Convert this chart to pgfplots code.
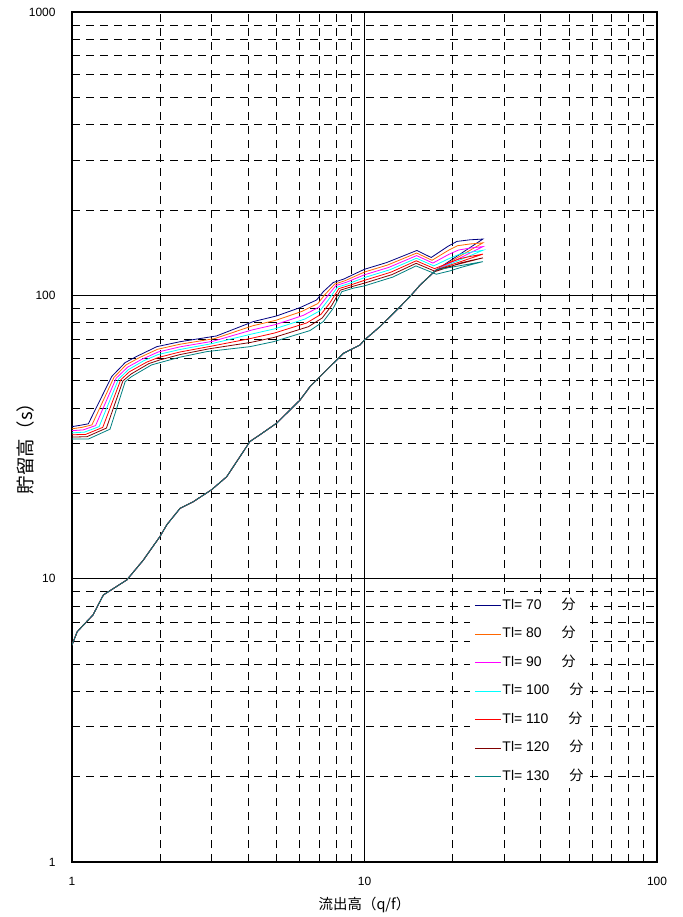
\documentclass[border=0pt]{standalone}
\usepackage{fontspec}
\setmainfont{Liberation Sans}
\newfontfamily\jp{Noto Sans CJK JP}
\usepackage{pgfplots}
\pgfplotsset{compat=1.18}
\definecolor{cA}{RGB}{0,0,128}
\definecolor{cB}{RGB}{255,102,0}
\definecolor{cC}{RGB}{255,0,255}
\definecolor{cD}{RGB}{0,255,255}
\definecolor{cE}{RGB}{255,0,0}
\definecolor{cF}{RGB}{128,0,0}
\definecolor{cG}{RGB}{0,128,128}
\begin{document}
\begin{tikzpicture}
\begin{loglogaxis}[
  scale only axis, width=585bp, height=850bp,
  xmin=1, xmax=100, ymin=1, ymax=1000,
  xtick={1,10,100}, xticklabels={1,10,100},
  ytick={1,10,100,1000}, yticklabels={1,10,100,1000},
  minor xtick={2,3,4,5,6,7,8,9,20,30,40,50,60,70,80,90},
  minor ytick={2,3,4,5,6,7,8,9,20,30,40,50,60,70,80,90,200,300,400,500,600,700,800,900},
  major tick length=0pt, minor tick length=0pt,
  grid=both,
  major grid style={black, line width=0.8bp},
  minor grid style={black, line width=0.8bp, dash pattern=on 8bp off 6bp},
  axis line style={black, line width=1.5bp},
  tick label style={font=\fontsize{12}{14}\selectfont},
  xticklabel style={yshift=-12bp},
  yticklabel style={xshift=-13bp},
  xlabel={\jp 流出高（q/f）}, ylabel={\jp 貯留高（s）},
  xlabel style={font=\fontsize{14.5}{16}\selectfont, at={(axis description cs:0.5,-0.0506)}, anchor=center},
  ylabel style={font=\fontsize{18.5}{20}\selectfont, at={(axis description cs:-0.0803,0.4918)}, anchor=center},
  legend cell align=left,
  legend image code/.code={\draw[#1, line width=1.3bp] (0bp,0bp) -- (26bp,0bp);},
  legend style={at={(axis description cs:0.6803,0.3153)}, anchor=north west,
    draw=none, fill=white, inner sep=4bp, row sep=13.5bp,
    font=\fontsize{14}{16}\selectfont,
    nodes={inner sep=1bp, text height=10bp, text depth=3bp}},
  every axis plot/.append style={line width=0.8bp, mark=none},
]
\addplot[color=cA] coordinates {(1,5.83) (1.042,6.5) (1.18,7.45) (1.28,8.76) (1.54,9.9) (1.75,11.6) (2,14.1) (2.11,15.5) (2.34,17.7) (2.6,18.7) (3,20.6) (3.38,22.9) (4.06,30.5) (4.39,32.2) (5.01,35.4) (6.02,42.7) (6.51,47.6) (7.62,56) (8.47,62.4) (9.65,66.8) (10,69.6) (11.3,77.6) (12.9,88.8) (14.3,99) (15.5,108.8) (17.6,123)
 (25.4,158) (22.9,157) (20.7,155) (19.3,149) (16.9,136) (15.1,144) (11.9,130.5) (10,123.6) (8.47,114) (7.82,111) (7.23,103) (6.86,96.3) (6.02,90.5) (5.01,84.6) (4.17,80.8) (3.12,71.9) (2.34,68.6) (1.95,65.9) (1.66,60.8) (1.52,57.9) (1.367,51.7) (1.137,35.2) (1.07,34.8) (1,34.4)};
\addlegendentry{Tl= 70\hspace{20bp}{\jp 分}}
\addplot[color=cB] coordinates {(1,5.83) (1.042,6.5) (1.18,7.45) (1.28,8.76) (1.54,9.9) (1.75,11.6) (2,14.1) (2.11,15.5) (2.34,17.7) (2.6,18.7) (3,20.6) (3.38,22.9) (4.06,30.5) (4.39,32.2) (5.01,35.4) (6.02,42.7) (6.51,47.6) (7.62,56) (8.47,62.4) (9.65,66.8) (10,69.6) (11.3,77.6) (12.9,88.8) (14.3,99) (15.5,108.8) (17.6,123)
 (25.4,153.2) (22.97,151.8) (20.83,149.7) (19.35,144.1) (17.01,132.95) (15.08,141.0) (12.0,127.96) (10,120.85) (8.58,112.6) (7.91,109.6) (7.33,100.7) (6.92,93.5) (6.10,87.7) (4.99,81.7) (4.15,78.1) (3.08,70.4) (2.34,67.2) (1.96,64.5) (1.69,60.1) (1.53,56.8) (1.391,51.3) (1.170,34.9) (1.081,34.2) (1,33.8)};
\addlegendentry{Tl= 80\hspace{20bp}{\jp 分}}
\addplot[color=cC] coordinates {(1,5.83) (1.042,6.5) (1.18,7.45) (1.28,8.76) (1.54,9.9) (1.75,11.6) (2,14.1) (2.11,15.5) (2.34,17.7) (2.6,18.7) (3,20.6) (3.38,22.9) (4.06,30.5) (4.39,32.2) (5.01,35.4) (6.02,42.7) (6.51,47.6) (7.62,56) (8.47,62.4) (9.65,66.8) (10,69.6) (11.3,77.6) (12.9,88.8) (14.3,99) (15.5,108.8) (17.6,123)
 (25.4,148.6) (23.03,146.9) (20.96,144.5) (19.4,139.4) (17.13,129.97) (15.07,138.1) (12.1,125.47) (10,118.17) (8.69,111.3) (7.99,108.3) (7.42,98.5) (6.98,90.8) (6.18,85.0) (4.97,78.9) (4.13,75.5) (3.04,68.9) (2.34,65.8) (1.97,63.1) (1.73,59.4) (1.55,55.8) (1.416,51.0) (1.204,34.7) (1.092,33.5) (1,33.3)};
\addlegendentry{Tl= 90\hspace{20bp}{\jp 分}}
\addplot[color=cD] coordinates {(1,5.83) (1.042,6.5) (1.18,7.45) (1.28,8.76) (1.54,9.9) (1.75,11.6) (2,14.1) (2.11,15.5) (2.34,17.7) (2.6,18.7) (3,20.6) (3.38,22.9) (4.06,30.5) (4.39,32.2) (5.01,35.4) (6.02,42.7) (6.51,47.6) (7.62,56) (8.47,62.4) (9.65,66.8) (10,69.6) (11.3,77.6) (12.9,88.8) (14.3,99) (15.5,108.8) (17.6,123)
 (25.4,144.2) (23.10,142.0) (21.1,139.6) (19.45,134.8) (17.25,127.05) (15.05,135.2) (12.2,123.04) (10,115.54) (8.81,109.9) (8.08,106.9) (7.52,96.3) (7.04,88.2) (6.26,82.5) (4.94,76.2) (4.11,73.0) (3.0,67.5) (2.34,64.4) (1.97,61.8) (1.76,58.8) (1.56,54.7) (1.442,50.6) (1.238,34.4) (1.103,32.9) (1,32.7)};
\addlegendentry{Tl= 100\hspace{20bp}{\jp 分}}
\addplot[color=cE] coordinates {(1,5.83) (1.042,6.5) (1.18,7.45) (1.28,8.76) (1.54,9.9) (1.75,11.6) (2,14.1) (2.11,15.5) (2.34,17.7) (2.6,18.7) (3,20.6) (3.38,22.9) (4.06,30.5) (4.39,32.2) (5.01,35.4) (6.02,42.7) (6.51,47.6) (7.62,56) (8.47,62.4) (9.65,66.8) (10,69.6) (11.3,77.6) (12.9,88.8) (14.3,99) (15.5,108.8) (17.6,123)
 (25.4,139.8) (23.17,137.4) (21.23,134.8) (19.5,130.4) (17.36,124.2) (15.03,132.4) (12.3,120.65) (10,112.97) (8.92,108.6) (8.17,105.6) (7.62,94.1) (7.10,85.7) (6.34,79.9) (4.92,73.6) (4.10,70.5) (2.96,66.0) (2.34,63.1) (1.98,60.4) (1.80,58.1) (1.57,53.7) (1.467,50.3) (1.274,34.2) (1.114,32.3) (1,32.2)};
\addlegendentry{Tl= 110\hspace{20bp}{\jp 分}}
\addplot[color=cF] coordinates {(1,5.83) (1.042,6.5) (1.18,7.45) (1.28,8.76) (1.54,9.9) (1.75,11.6) (2,14.1) (2.11,15.5) (2.34,17.7) (2.6,18.7) (3,20.6) (3.38,22.9) (4.06,30.5) (4.39,32.2) (5.01,35.4) (6.02,42.7) (6.51,47.6) (7.62,56) (8.47,62.4) (9.65,66.8) (10,69.6) (11.3,77.6) (12.9,88.8) (14.3,99) (15.5,108.8) (17.6,123)
 (25.4,135.6) (23.23,132.9) (21.36,130.2) (19.55,126.1) (17.48,121.42) (15.02,129.7) (12.4,118.3) (10,110.46) (9.04,107.3) (8.27,104.3) (7.72,92.0) (7.17,83.2) (6.43,77.5) (4.90,71.0) (4.08,68.2) (2.93,64.7) (2.34,61.8) (1.99,59.1) (1.83,57.4) (1.59,52.7) (1.493,49.9) (1.311,34.0) (1.125,31.7) (1,31.6)};
\addlegendentry{Tl= 120\hspace{20bp}{\jp 分}}
\addplot[color=cG] coordinates {(1,5.83) (1.042,6.5) (1.18,7.45) (1.28,8.76) (1.54,9.9) (1.75,11.6) (2,14.1) (2.11,15.5) (2.34,17.7) (2.6,18.7) (3,20.6) (3.38,22.9) (4.06,30.5) (4.39,32.2) (5.01,35.4) (6.02,42.7) (6.51,47.6) (7.62,56) (8.47,62.4) (9.65,66.8) (10,69.6) (11.3,77.6) (12.9,88.8) (14.3,99) (15.5,108.8) (17.6,123)
 (25.4,131.5) (23.3,128.5) (21.5,125.7) (19.6,122) (17.6,118.7) (15.0,127) (12.5,116) (10,108) (9.16,106) (8.36,103) (7.82,90) (7.23,80.8) (6.51,75.1) (4.88,68.6) (4.06,65.9) (2.89,63.3) (2.34,60.5) (2.0,57.9) (1.87,56.8) (1.6,51.7) (1.52,49.6) (1.349,33.7) (1.137,31.1) (1,31.1)};
\addlegendentry{Tl= 130\hspace{20bp}{\jp 分}}
\end{loglogaxis}
\path (current axis.south west) +(-72bp,-55bp) (current axis.north east) +(25bp,12bp);
\end{tikzpicture}
\end{document}
